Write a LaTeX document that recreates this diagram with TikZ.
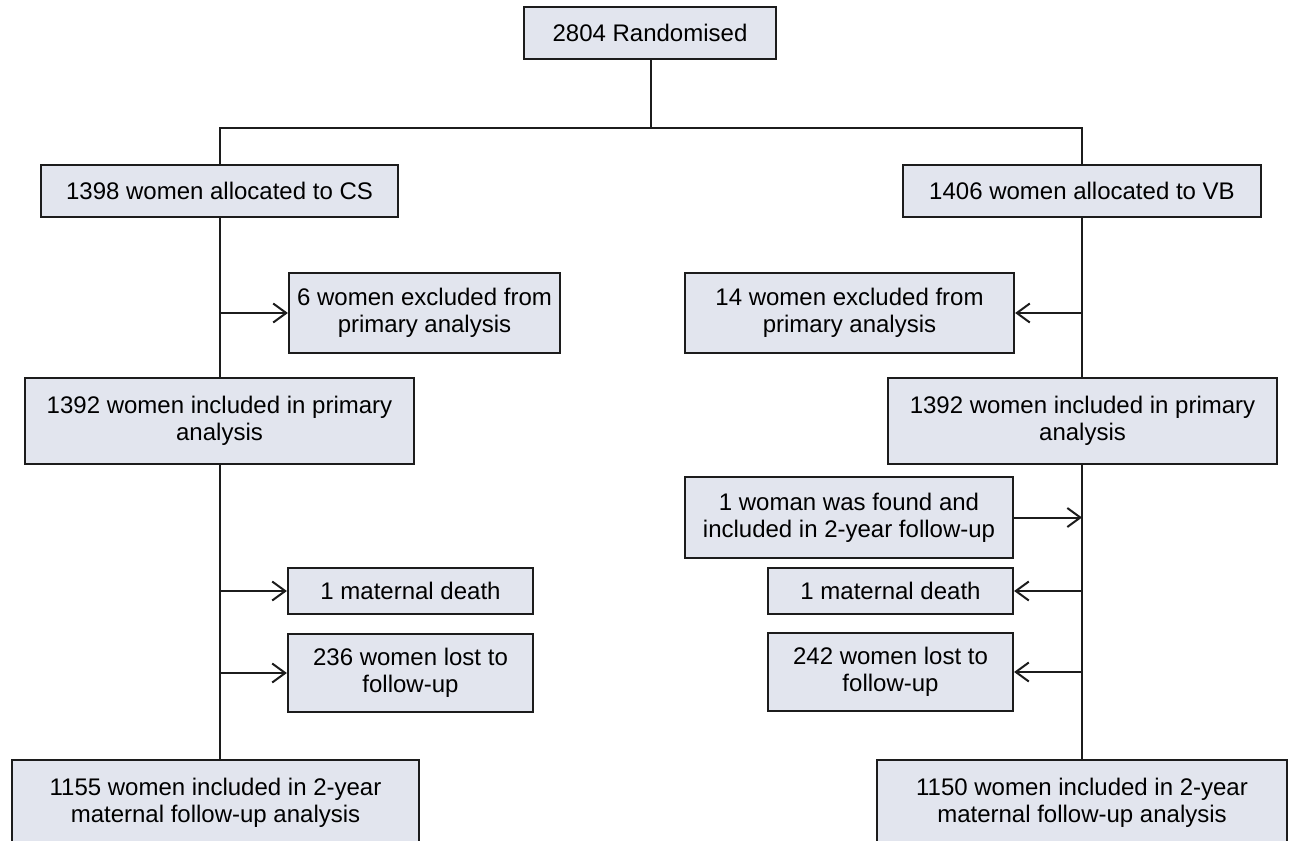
\documentclass[tikz,border=0pt]{standalone}
\usepackage{fontspec}
\setmainfont{Liberation Sans}
\usepackage{tikz}
\usetikzlibrary{arrows.meta,positioning}
\definecolor{boxfill}{HTML}{E2E5EE}
\definecolor{linecol}{HTML}{1C1C1C}

\begin{document}
\begin{tikzpicture}[x=1pt,y=-1pt,
    box/.style={draw=linecol, fill=boxfill, line width=2.2pt, align=center,
      inner sep=0pt, text=black, font=\fontsize{24}{27}\selectfont},
    link/.style={draw=linecol, line width=2pt},
    arr/.style={link, -{Straight Barb[length=13pt,width=19pt]}}]
    \useasboundingbox (0,0) rectangle (1289,840);
    \node[box, minimum width=252pt, minimum height=52pt] (rand) at (650,33) {2804 Randomised};
    \node[box, minimum width=357pt, minimum height=52pt] (cs) at (219.5,191) {1398 women allocated to CS};
    \node[box, minimum width=358pt, minimum height=52pt] (vb) at (1082,191) {1406 women allocated to VB};
    \node[box, minimum width=271pt, minimum height=80pt] (exCS) at (424.5,313) {6 women excluded from\\primary analysis};
    \node[box, minimum width=329pt, minimum height=80pt] (exVB) at (849.5,313) {14 women excluded from\\primary analysis};
    \node[box, minimum width=389pt, minimum height=86pt] (inCS) at (219.5,421) {1392 women included in primary\\analysis};
    \node[box, minimum width=389pt, minimum height=86pt] (inVB) at (1082.5,421) {1392 women included in primary\\analysis};
    \node[box, minimum width=328pt, minimum height=81pt] (found) at (849,517.5) {1 woman was found and\\included in 2-year follow-up};
    \node[box, minimum width=245pt, minimum height=46pt] (deathCS) at (410.5,591) {1 maternal death};
    \node[box, minimum width=245pt, minimum height=46pt] (deathVB) at (890.5,591) {1 maternal death};
    \node[box, minimum width=245pt, minimum height=78pt, below=82pt of deathCS.center, anchor=center] (lostCS) {236 women lost to\\follow-up};
    \node[box, minimum width=245pt, minimum height=78pt, below=81pt of deathVB.center, anchor=center] (lostVB) {242 women lost to\\follow-up};
    \node[box, minimum width=407pt, minimum height=86pt] (fuCS) at (215.5,803) {1155 women included in 2-year\\maternal follow-up analysis};
    \node[box, minimum width=410pt, minimum height=86pt] (fuVB) at (1082,803) {1150 women included in 2-year\\maternal follow-up analysis};
    \coordinate (split) at (651,128);
    % randomisation split
    \draw[link] (rand.south -| split) -- (split);
    \draw[link] (cs.north) |- (split) -| (vb.north);
    % CS arm
    \draw[link] (cs.south) -- (inCS.north);
    \draw[link] (inCS.south) -- (inCS.south |- fuCS.north);
    \draw[arr] (cs.south |- exCS) -- (exCS.west);
    \draw[arr] (inCS.south |- deathCS) -- (deathCS.west);
    \draw[arr] (inCS.south |- lostCS) -- (lostCS.west);
    % VB arm
    \draw[link] (vb.south) -- (vb.south |- inVB.north);
    \draw[link] (vb.south |- inVB.south) -- (vb.south |- fuVB.north);
    \draw[arr] (vb.south |- exVB) -- (exVB.east);
    \draw[arr] (found.east) -- (found.east -| vb.south);
    \draw[arr] (vb.south |- deathVB) -- (deathVB.east);
    \draw[arr] (vb.south |- lostVB) -- (lostVB.east);
\end{tikzpicture}
\end{document}
